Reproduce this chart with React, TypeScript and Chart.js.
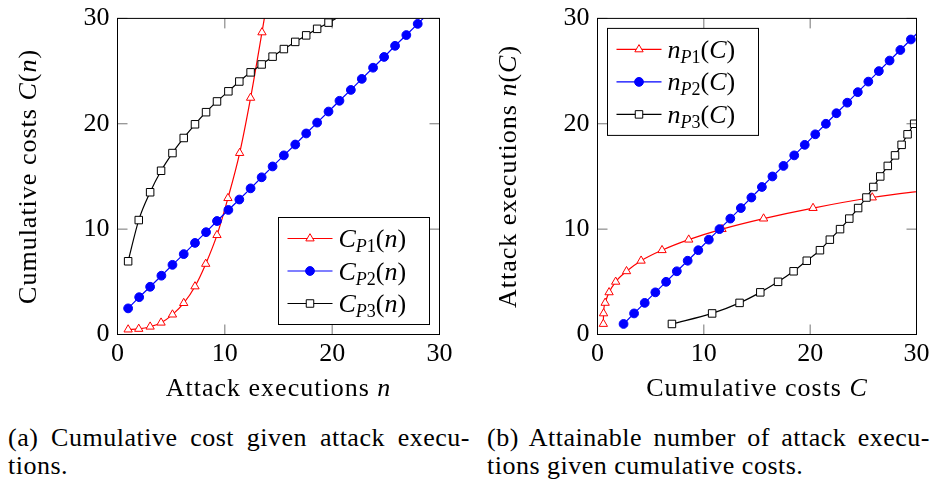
import React, { useEffect, useRef } from 'react';
import { Chart, registerables } from 'chart.js';

Chart.register(...registerables);

const FONT = '"Liberation Serif", "DejaVu Serif", "Noto Serif", "Times New Roman", Times, Tinos, "Nimbus Roman", "Nimbus Roman No9 L", FreeSerif, Georgia, serif';

// ---------- (a) cumulative cost C(n) given attack executions n ----------
const aP1N = [0.99, 1.98, 3.04, 4.06, 5.12, 6.17, 7.22, 8.22, 9.27, 10.29, 11.38, 12.4, 13.46, 14.5];
const aP1C = [0.47, 0.53, 0.74, 1.12, 1.89, 2.98, 4.56, 6.7, 9.43, 12.94, 17.22, 22.46, 28.67, 35.0];

const aP2N = [0.99, 2.02, 3.04, 4.09, 5.12, 6.17, 7.22, 8.25, 9.27, 10.33, 11.35, 12.4, 13.43, 14.45, 15.5, 16.56, 17.58, 18.6, 19.66, 20.68, 21.74, 22.76, 23.81, 24.84, 25.86, 26.91, 27.97, 29.0];
const aP2C = [2.48, 3.54, 4.53, 5.58, 6.61, 7.63, 8.69, 9.71, 10.77, 11.82, 12.81, 13.87, 14.92, 15.95, 17.0, 18.03, 19.08, 20.11, 21.16, 22.18, 23.21, 24.26, 25.32, 26.34, 27.4, 28.42, 29.48, 30.52];

const aP3N = [0.99, 1.98, 3.04, 4.06, 5.12, 6.17, 7.22, 8.25, 9.27, 10.33, 11.35, 12.4, 13.43, 14.45, 15.5, 16.56, 17.58, 18.6, 19.66, 21.7];
const aP3C = [6.95, 10.86, 13.5, 15.54, 17.22, 18.65, 19.95, 21.1, 22.12, 23.08, 24.01, 24.88, 25.63, 26.37, 27.09, 27.77, 28.39, 29.01, 29.6, 30.75];

// ---------- (b) attainable attack executions n(C) given cumulative costs C ----------
const bP1C = [0.55, 0.57, 0.72, 1.09, 1.71, 2.73, 4.1, 6.07, 8.58, 11.71, 15.62, 20.27, 25.84, 31.5];
const bP1N = [1, 2, 3, 4, 5, 6, 7, 8, 9, 10, 11, 12, 13, 13.75];

const bP2C = [2.45, 3.44, 4.44, 5.44, 6.45, 7.46, 8.48, 9.48, 10.47, 11.47, 12.49, 13.48, 14.47, 15.46, 16.45, 17.49, 18.5, 19.49, 20.48, 21.48, 22.47, 23.49, 24.48, 25.47, 26.46, 27.47, 28.48, 29.47, 30.47];
const bP2N = [1, 2, 3, 4, 5, 6, 7, 8, 9, 10, 11, 12, 13, 14, 15, 16, 17, 18, 19, 20, 21, 22, 23, 24, 25, 26, 27, 28, 29];

const bP3C = [7.0, 10.78, 13.36, 15.31, 16.98, 18.44, 19.68, 20.92, 21.85, 22.81, 23.68, 24.51, 25.29, 25.94, 26.59, 27.3, 27.98, 28.6, 29.16, 29.78];
const bP3N = [1, 2, 3, 4, 5, 6, 7, 8, 9, 10, 11, 12, 13, 14, 15, 16, 17, 18, 19, 20];

const axisTicks = [0, 10, 20, 30];

const seriesIds = ['1', '2', '3'];
const seriesColors = ['#ff0000', '#0000ff', '#000000'];
const seriesMarkers = ['triangle', 'circle', 'rect'];

type Run = { t: string; i?: boolean; sub?: boolean };

const xTitleA: Run[] = [{ t: 'Attack executions ' }, { t: 'n', i: true }];
const yTitleA: Run[] = [{ t: 'Cumulative costs ' }, { t: 'C', i: true }, { t: '(' }, { t: 'n', i: true }, { t: ')' }];
const xTitleB: Run[] = [{ t: 'Cumulative costs ' }, { t: 'C', i: true }];
const yTitleB: Run[] = [{ t: 'Attack executions ' }, { t: 'n', i: true }, { t: '(' }, { t: 'C', i: true }, { t: ')' }];

function legendLabel(sym: string, id: string, arg: string): Run[] {
  return [
    { t: sym, i: true },
    { t: 'P', i: true, sub: true },
    { t: id, sub: true },
    { t: '(' },
    { t: arg, i: true },
    { t: ')' },
  ];
}

const FS = 26;
const SUBFS = 18;

function fontFor(r: Run) {
  return `${r.i ? 'italic ' : ''}${r.sub ? SUBFS : FS}px ${FONT}`;
}

function measureRuns(ctx: CanvasRenderingContext2D, runs: Run[]) {
  let w = 0;
  for (const r of runs) {
    ctx.font = fontFor(r);
    w += ctx.measureText(r.t).width;
  }
  return w;
}

function drawRuns(ctx: CanvasRenderingContext2D, runs: Run[], x: number, y: number, align: 'left' | 'center') {
  ctx.textAlign = 'left';
  ctx.textBaseline = 'alphabetic';
  const w = measureRuns(ctx, runs);
  let cx = align === 'center' ? x - w / 2 : x;
  for (const r of runs) {
    ctx.font = fontFor(r);
    ctx.fillText(r.t, cx, y + (r.sub ? 5 : 0));
    cx += ctx.measureText(r.t).width;
  }
}

function drawMarker(ctx: CanvasRenderingContext2D, k: number, x: number, y: number) {
  const m = seriesMarkers[k];
  const c = seriesColors[k];
  ctx.beginPath();
  if (m === 'triangle') {
    const r = 4.8;
    ctx.moveTo(x, y - r);
    ctx.lineTo(x + r * Math.sin((2 * Math.PI) / 3), y - r * Math.cos((2 * Math.PI) / 3));
    ctx.lineTo(x + r * Math.sin((4 * Math.PI) / 3), y - r * Math.cos((4 * Math.PI) / 3));
    ctx.closePath();
    ctx.fillStyle = '#fff';
  } else if (m === 'circle') {
    ctx.arc(x, y, 4.4, 0, Math.PI * 2);
    ctx.fillStyle = c;
  } else {
    const s = 5.3 * Math.SQRT1_2;
    ctx.rect(x - s, y - s, 2 * s, 2 * s);
    ctx.fillStyle = '#fff';
  }
  ctx.fill();
  ctx.strokeStyle = c;
  ctx.lineWidth = 1;
  ctx.stroke();
}

function zip(xs: number[], ys: number[]) {
  return xs.map((x, i) => ({ x, y: ys[i] }));
}

function makeDataset(k: number, xs: number[], ys: number[], smooth: boolean) {
  const m = seriesMarkers[k];
  const c = seriesColors[k];
  return {
    data: zip(xs, ys),
    borderColor: c,
    borderWidth: 1.2,
    pointStyle: m,
    pointRadius: m === 'triangle' ? 4.8 : m === 'circle' ? 4.4 : 5.3,
    pointBorderColor: c,
    pointBackgroundColor: m === 'circle' ? c : '#ffffff',
    pointBorderWidth: 1,
    cubicInterpolationMode: smooth ? 'monotone' : 'default',
    tension: 0,
    fill: false,
    order: 3 - k,
  };
}

type PlotOpts = {
  yWidth: number;
  padRight: number;
  xTitle: Run[];
  yTitle: Run[];
  legendLabels: Run[][];
  legendCorner: 'br' | 'tl';
};

const TL = 10;
const LEG_W = 151;
const LEG_H = 107;
const LEG_ROWS = [21, 53.5, 86];

function makePlugin(o: PlotOpts) {
  return {
    id: 'frameDecor',
    afterDraw(chart: any) {
      const { ctx, chartArea: a, scales } = chart;
      ctx.save();
      ctx.strokeStyle = 'rgba(0,0,0,0.55)';
      ctx.lineWidth = 1;
      ctx.beginPath();
      for (const v of axisTicks) {
        const px = scales.x.getPixelForValue(v);
        const py = scales.y.getPixelForValue(v);
        ctx.moveTo(px, a.bottom);
        ctx.lineTo(px, a.bottom - TL);
        ctx.moveTo(px, a.top);
        ctx.lineTo(px, a.top + TL);
        ctx.moveTo(a.left, py);
        ctx.lineTo(a.left + TL, py);
        ctx.moveTo(a.right, py);
        ctx.lineTo(a.right - TL, py);
      }
      ctx.stroke();
      ctx.strokeStyle = '#000';
      ctx.lineWidth = 1;
      ctx.strokeRect(a.left, a.top, a.right - a.left, a.bottom - a.top);
      ctx.fillStyle = '#000';
      (ctx as any).letterSpacing = '1px';
      drawRuns(ctx, o.xTitle, (a.left + a.right) / 2, a.bottom + 61, 'center');
      ctx.save();
      ctx.translate(a.left - 81.5, (a.top + a.bottom) / 2);
      ctx.rotate(-Math.PI / 2);
      drawRuns(ctx, o.yTitle, 0, 0, 'center');
      ctx.restore();
      (ctx as any).letterSpacing = '0px';
      const bx = o.legendCorner === 'br' ? a.right - 10 - LEG_W : a.left + 10;
      const by = o.legendCorner === 'br' ? a.bottom - 10 - LEG_H : a.top + 10;
      ctx.fillStyle = '#fff';
      ctx.fillRect(bx, by, LEG_W, LEG_H);
      ctx.strokeStyle = '#000';
      ctx.lineWidth = 1;
      ctx.strokeRect(bx, by, LEG_W, LEG_H);
      o.legendLabels.forEach((runs, k) => {
        const ry = by + LEG_ROWS[k];
        ctx.strokeStyle = seriesColors[k];
        ctx.lineWidth = 1.2;
        ctx.beginPath();
        ctx.moveTo(bx + 9, ry);
        ctx.lineTo(bx + 54, ry);
        ctx.stroke();
        drawMarker(ctx, k, bx + 31.5, ry);
        ctx.fillStyle = '#000';
        drawRuns(ctx, runs, bx + 60, ry + 8.5, 'left');
      });
      ctx.restore();
    },
  };
}

function makeConfig(datasets: any[], o: PlotOpts): any {
  const tickFont = { family: FONT, size: FS };
  return {
    type: 'line',
    data: { datasets },
    options: {
      animation: false,
      responsive: false,
      devicePixelRatio: 1,
      events: [],
      layout: { padding: { left: 0, top: 11.5, right: o.padRight, bottom: 0 } },
      plugins: { legend: { display: false }, tooltip: { enabled: false } },
      scales: {
        x: {
          type: 'linear',
          min: 0,
          max: 30,
          afterFit: (s: any) => {
            s.height = 85.5;
          },
          afterBuildTicks: (s: any) => {
            s.ticks = axisTicks.map((v) => ({ value: v }));
          },
          ticks: { color: '#000', font: { ...tickFont, lineHeight: 1 }, padding: 6.5, maxRotation: 0, autoSkip: false },
          grid: { display: false, drawTicks: false },
          border: { display: false },
        },
        y: {
          type: 'linear',
          min: 0,
          max: 30,
          afterFit: (s: any) => {
            s.width = o.yWidth;
          },
          afterBuildTicks: (s: any) => {
            s.ticks = axisTicks.map((v) => ({ value: v }));
          },
          ticks: { color: '#000', font: { ...tickFont, lineHeight: 0.8 }, padding: 8, autoSkip: false },
          grid: { display: false, drawTicks: false },
          border: { display: false },
        },
      },
    },
    plugins: [makePlugin(o)],
  };
}

function Plot({ left, build }: { left: number; build: () => any }) {
  const ref = useRef<HTMLCanvasElement | null>(null);
  useEffect(() => {
    if (!ref.current) return;
    const chart = new Chart(ref.current, build());
    return () => chart.destroy();
  }, []);
  return (
    <canvas
      ref={ref}
      width={468}
      height={420}
      style={{ position: 'absolute', left, top: 0, width: 468, height: 420 }}
    />
  );
}

const buildA = () =>
  makeConfig(
    [
      makeDataset(0, aP1N, aP1C, true),
      makeDataset(1, aP2N, aP2C, false),
      makeDataset(2, aP3N, aP3C, true),
    ],
    {
      yWidth: 117.5,
      padRight: 28.5,
      xTitle: xTitleA,
      yTitle: yTitleA,
      legendLabels: seriesIds.map((id) => legendLabel('C', id, 'n')),
      legendCorner: 'br',
    }
  );

const buildB = () =>
  makeConfig(
    [
      makeDataset(0, bP1C, bP1N, true),
      makeDataset(1, bP2C, bP2N, false),
      makeDataset(2, bP3C, bP3N, true),
    ],
    {
      yWidth: 129.5,
      padRight: 15.5,
      xTitle: xTitleB,
      yTitle: yTitleB,
      legendLabels: seriesIds.map((id) => legendLabel('n', id, 'C')),
      legendCorner: 'tl',
    }
  );

const captionStyle: React.CSSProperties = {
  position: 'absolute',
  fontFamily: FONT,
  fontSize: 26,
  lineHeight: '28px',
  letterSpacing: '0.5px',
  color: '#000',
  whiteSpace: 'nowrap',
};

export default function App() {
  return (
    <div style={{ position: 'absolute', left: 0, top: 0, width: 936, height: 485, background: '#fff' }}>
      <Plot left={0} build={buildA} />
      <Plot left={468} build={buildB} />
      <div style={{ ...captionStyle, left: 8, top: 424, width: 462, textAlign: 'justify', textAlignLast: 'justify', whiteSpace: 'normal' }}>
        (a) Cumulative cost given attack execu-
      </div>
      <div style={{ ...captionStyle, left: 8, top: 452 }}>tions.</div>
      <div style={{ ...captionStyle, left: 487, top: 424, width: 443, textAlign: 'justify', textAlignLast: 'justify', whiteSpace: 'normal' }}>
        (b) Attainable number of attack execu-
      </div>
      <div style={{ ...captionStyle, left: 487, top: 452 }}>tions given cumulative costs.</div>
    </div>
  );
}
